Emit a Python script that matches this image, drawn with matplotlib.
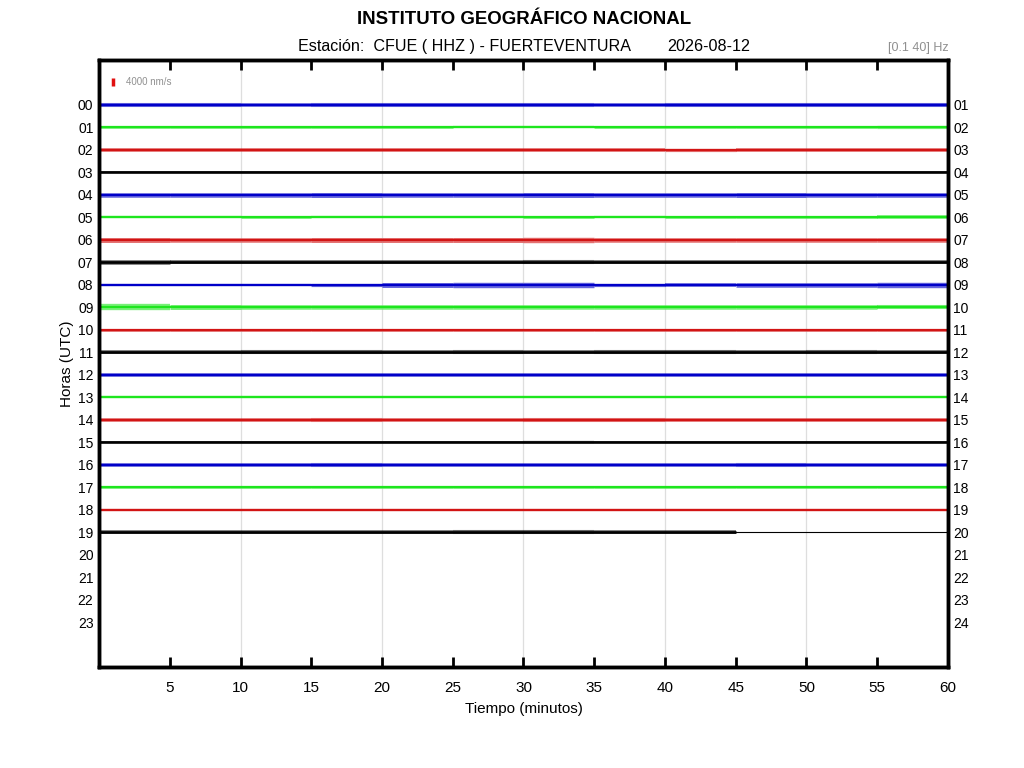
import matplotlib
matplotlib.use('Agg')
import matplotlib.pyplot as plt
from matplotlib.collections import LineCollection
import numpy as np

plt.rcParams['font.family'] = ['Liberation Sans', 'DejaVu Sans']

# hora de cada traza (fila) y colores en ciclo azul, verde, rojo, negro
horas = list(range(20))
colores = ['#0000c8', '#1ee61e', '#d21414', '#000000']
etiq_izq = ['%02d' % h for h in range(24)]
etiq_der = ['%02d' % (h + 1) for h in range(24)]

# amplitud aproximada del ruido (en unidades de separacion entre filas),
# leida por tramos de 5 minutos: 0-5, 5-10, ..., 55-60
tramos = [0, 5, 10, 15, 20, 25, 30, 35, 40, 45, 50, 55, 60]
amp00 = [0.09, 0.09, 0.08, 0.09, 0.09, 0.09, 0.09, 0.08, 0.09, 0.09, 0.09, 0.09]
amp01 = [0.06, 0.06, 0.06, 0.06, 0.06, 0.05, 0.05, 0.06, 0.06, 0.06, 0.06, 0.07]
amp02 = [0.08, 0.08, 0.08, 0.08, 0.08, 0.08, 0.08, 0.08, 0.07, 0.08, 0.08, 0.08]
amp03 = [0.04, 0.04, 0.04, 0.04, 0.04, 0.04, 0.04, 0.04, 0.04, 0.04, 0.04, 0.04]
amp04 = [0.10, 0.10, 0.10, 0.11, 0.10, 0.10, 0.11, 0.10, 0.10, 0.11, 0.10, 0.10]
amp05 = [0.05, 0.05, 0.06, 0.05, 0.05, 0.05, 0.06, 0.05, 0.06, 0.06, 0.06, 0.08]
amp06 = [0.11, 0.10, 0.10, 0.11, 0.11, 0.11, 0.12, 0.10, 0.10, 0.10, 0.10, 0.10]
amp07 = [0.10, 0.08, 0.08, 0.08, 0.08, 0.08, 0.09, 0.08, 0.08, 0.08, 0.08, 0.08]
amp08 = [0.05, 0.05, 0.05, 0.07, 0.11, 0.12, 0.12, 0.07, 0.08, 0.10, 0.10, 0.12]
amp09 = [0.14, 0.11, 0.10, 0.10, 0.10, 0.10, 0.10, 0.10, 0.10, 0.10, 0.10, 0.09]
amp10 = [0.06, 0.06, 0.06, 0.06, 0.06, 0.06, 0.06, 0.06, 0.06, 0.06, 0.06, 0.06]
amp11 = [0.08, 0.08, 0.09, 0.09, 0.08, 0.09, 0.08, 0.09, 0.09, 0.08, 0.09, 0.08]
amp12 = [0.08, 0.08, 0.08, 0.08, 0.08, 0.08, 0.08, 0.08, 0.08, 0.08, 0.08, 0.08]
amp13 = [0.05, 0.05, 0.05, 0.05, 0.05, 0.05, 0.05, 0.05, 0.05, 0.05, 0.05, 0.05]
amp14 = [0.08, 0.08, 0.08, 0.09, 0.08, 0.08, 0.09, 0.09, 0.08, 0.08, 0.08, 0.08]
amp15 = [0.04, 0.04, 0.04, 0.04, 0.04, 0.04, 0.05, 0.04, 0.04, 0.04, 0.04, 0.04]
amp16 = [0.08, 0.08, 0.08, 0.09, 0.08, 0.08, 0.08, 0.08, 0.08, 0.09, 0.08, 0.08]
amp17 = [0.06, 0.06, 0.06, 0.06, 0.06, 0.06, 0.06, 0.06, 0.06, 0.06, 0.06, 0.06]
amp18 = [0.05, 0.05, 0.05, 0.05, 0.05, 0.05, 0.05, 0.05, 0.05, 0.05, 0.05, 0.05]
amp19 = [0.08, 0.08, 0.08, 0.08, 0.08, 0.09, 0.09, 0.08, 0.08, 0.00, 0.00, 0.00]
amplitudes = [amp00, amp01, amp02, amp03, amp04, amp05, amp06, amp07, amp08, amp09,
              amp10, amp11, amp12, amp13, amp14, amp15, amp16, amp17, amp18, amp19]
fin_datos = [60] * 19 + [45]   # la ultima hora solo tiene datos hasta el minuto 45

fig = plt.figure(figsize=(10.24, 7.68), dpi=100)
ax = fig.add_axes([0.0967, 0.1315, 0.829, 0.7904])

# puntos por unidad de fila (separacion entre horas ~22.6 px)
pt_fila = 22.6 * 0.72

for h, amp in zip(horas, amplitudes):
    c = colores[h % 4]
    segs = [[(tramos[k], h), (tramos[k + 1], h)] for k in range(12) if amp[k] > 0]
    anchos = [2 * a * pt_fila for a in amp if a > 0]
    ax.add_collection(LineCollection(segs, linewidths=anchos, colors=c, alpha=0.6,
                                     capstyle='butt'))
    grosor = 1.9 if h % 4 == 3 else 1.6
    ax.plot([0, fin_datos[h]], [h, h], color=c, lw=grosor, solid_capstyle='butt')
    if fin_datos[h] < 60:
        ax.plot([fin_datos[h], 60], [h, h], color=c, lw=0.8)

# barra de escala
ax.plot([1.0, 1.0], [-1.2, -0.85], color='#e01010', lw=2.5, solid_capstyle='butt')
ax.text(1.9, -1.02, '4000 nm/s', color='#909090', fontsize=7, va='center')

ax.set_xlim(0, 60)
ax.set_ylim(25, -2)
ax.set_xticks(range(5, 61, 5))
ax.tick_params(axis='x', direction='in', length=7, width=2, top=True, labelsize=11, pad=10)
for g in range(10, 60, 10):
    ax.axvline(g, color='#dedede', lw=0.9, zorder=0)

ax.set_yticks(range(24))
ax.set_yticklabels(etiq_izq)
ax.tick_params(axis='y', length=0, labelsize=10, pad=4)
ax2 = ax.twinx()
ax2.set_ylim(25, -2)
ax2.set_yticks(range(24))
ax2.set_yticklabels(etiq_der)
ax2.tick_params(axis='y', length=0, labelsize=10, pad=4)

for a_ in (ax, ax2):
    for s in a_.spines.values():
        s.set_linewidth(2.5)

ax.set_xlabel('Tiempo (minutos)', fontsize=11, labelpad=5)
ax.set_ylabel('Horas (UTC)', fontsize=11, labelpad=3)

fig.text(0.512, 0.974, 'INSTITUTO GEOGRÁFICO NACIONAL', ha='center', va='center',
         fontsize=13.4, fontweight='bold')
fig.text(0.291, 0.940, 'Estación:  CFUE ( HHZ ) - FUERTEVENTURA', ha='left', va='center',
         fontsize=11.6)
fig.text(0.652, 0.940, '2026-08-12', ha='left', va='center', fontsize=11.6)
fig.text(0.926, 0.937, '[0.1 40] Hz', ha='right', va='center', fontsize=9, color='#909090')

fig.savefig('out.png', dpi=100)
